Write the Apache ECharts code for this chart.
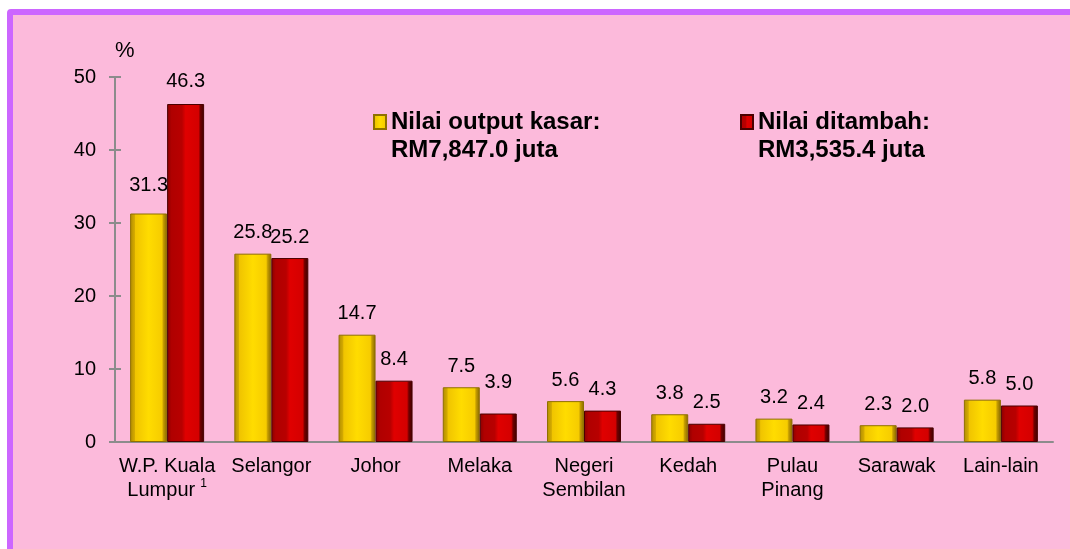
<!DOCTYPE html>
<html>
<head>
<meta charset="utf-8">
<script src="https://cdn.jsdelivr.net/npm/echarts@6/dist/echarts.min.js"></script>
<style>
  html, body { margin: 0; padding: 0; background: #fff; }
  #chart { width: 1070px; height: 549px; }
</style>
</head>
<body>
<div id="chart"></div>
<script>
const categories = ['W.P. Kuala\nLumpur', 'Selangor', 'Johor', 'Melaka', 'Negeri\nSembilan', 'Kedah', 'Pulau\nPinang', 'Sarawak', 'Lain-lain'];
const footnoted = ['W.P. Kuala\nLumpur'];
const outputKasar = [31.3, 25.8, 14.7, 7.5, 5.6, 3.8, 3.2, 2.3, 5.8];
const nilaiDitambah = [46.3, 25.2, 8.4, 3.9, 4.3, 2.5, 2.4, 2.0, 5.0];
const seriesNames = ['Nilai output kasar:', 'Nilai ditambah:'];
const seriesTotals = ['RM7,847.0 juta', 'RM3,535.4 juta'];
const yTicks = [0, 10, 20, 30, 40, 50];

// labels that sit a bit higher in the original, pixels up
const kasarLabelLift = [7, 0, 0, 0, 0, 0, 0, 0, 0];
const tambahLabelLift = [2, 0, 0, 10, 0, 0, 0, 0, 0];

const FONT = 'Arial, "Liberation Sans", sans-serif';
const AXIS_GREY = '#8c8c8c';

// bevel-ish look for the bars, left edge darker, right edge darkest
const yellowFill = new echarts.graphic.LinearGradient(0, 0, 1, 0, [
  { offset: 0, color: '#b08c00' },
  { offset: 0.12, color: '#d4aa00' },
  { offset: 0.14, color: '#f0c400' },
  { offset: 0.5, color: '#ffdc00' },
  { offset: 0.86, color: '#f6cc00' },
  { offset: 0.9, color: '#c49c00' },
  { offset: 1, color: '#856600' },
]);
const redFill = new echarts.graphic.LinearGradient(0, 0, 1, 0, [
  { offset: 0, color: '#8a0000' },
  { offset: 0.12, color: '#b00000' },
  { offset: 0.4, color: '#b80000' },
  { offset: 0.5, color: '#e00000' },
  { offset: 0.85, color: '#d40000' },
  { offset: 0.9, color: '#700000' },
  { offset: 1, color: '#3c0000' },
]);

const valueLabel = {
  show: true,
  position: 'top',
  distance: 11,
  color: '#000',
  fontFamily: FONT,
  fontSize: 20,
  formatter: p => p.value.toFixed(1),
};

const withLift = (values, lifts) =>
  values.map((v, i) => (lifts[i] ? { value: v, label: { offset: [0, -lifts[i]] } } : v));

const legendBase = {
  top: 105,
  orient: 'horizontal',
  itemWidth: 12,
  itemHeight: 14,
  icon: 'rect',
  textStyle: { fontFamily: FONT, fontSize: 24, fontWeight: 'bold', color: '#000' },
};

const chart = echarts.init(document.getElementById('chart'), null, { renderer: 'canvas' });

chart.setOption({
  animation: false,
  textStyle: { fontFamily: FONT },
  graphic: [
    {
      type: 'rect',
      z: -10,
      shape: { x: 10, y: 12, width: 1100, height: 600, r: 1 },
      style: { fill: '#fcbadb', stroke: '#cc66ff', lineWidth: 6 },
    },
    {
      type: 'text',
      left: 391,
      top: 138,
      style: { text: seriesTotals[0], font: 'bold 24px ' + FONT, fill: '#000' },
    },
    {
      type: 'text',
      left: 758,
      top: 138,
      style: { text: seriesTotals[1], font: 'bold 24px ' + FONT, fill: '#000' },
    },
  ],
  legend: [
    Object.assign({}, legendBase, { left: 368, data: [seriesNames[0]] }),
    Object.assign({}, legendBase, { left: 735, data: [seriesNames[1]] }),
  ],
  grid: { left: 115, right: 17, top: 77, bottom: 107 },
  xAxis: {
    type: 'category',
    data: categories,
    axisLine: { lineStyle: { color: AXIS_GREY, width: 2 } },
    axisTick: { show: false },
    axisLabel: {
      margin: 12,
      interval: 0,
      color: '#000',
      fontSize: 20,
      lineHeight: 24,
      formatter: v => {
        const lines = v.split('\n').map(s => '{a|' + s + '}');
        if (footnoted.includes(v)) lines[lines.length - 1] += '{s|1}';
        return lines.join('\n');
      },
      rich: {
        a: { fontSize: 20, lineHeight: 24, color: '#000', fontFamily: FONT },
        s: { fontSize: 12, lineHeight: 12, verticalAlign: 'top', color: '#000', padding: [0, 0, 0, 5], fontFamily: FONT },
      },
    },
  },
  yAxis: [
    {
      type: 'value',
      min: yTicks[0],
      max: yTicks[yTicks.length - 1],
      interval: yTicks[1] - yTicks[0],
      name: '%',
      nameLocation: 'end',
      nameGap: 15,
      nameTextStyle: { color: '#000', fontSize: 22, align: 'left', fontFamily: FONT },
      axisLine: { show: true, lineStyle: { color: AXIS_GREY, width: 2 } },
      axisTick: { show: true, length: 6, lineStyle: { color: AXIS_GREY, width: 2 } },
      axisLabel: { margin: 19, color: '#000', fontSize: 20 },
      splitLine: { show: false },
    },
    {
      // inner half of the crossing ticks
      type: 'value',
      position: 'left',
      min: yTicks[0],
      max: yTicks[yTicks.length - 1],
      interval: yTicks[1] - yTicks[0],
      axisLine: { show: false },
      axisTick: { show: true, inside: true, length: 6, lineStyle: { color: AXIS_GREY, width: 2 } },
      axisLabel: { show: false },
      splitLine: { show: false },
    },
  ],
  series: [
    {
      name: seriesNames[0],
      type: 'bar',
      data: withLift(outputKasar, kasarLabelLift),
      barWidth: 37,
      barGap: '0%',
      itemStyle: { color: yellowFill, borderColor: '#8f7000', borderWidth: 1 },
      label: valueLabel,
    },
    {
      name: seriesNames[1],
      type: 'bar',
      data: withLift(nilaiDitambah, tambahLabelLift),
      barWidth: 37,
      barGap: '0%',
      itemStyle: { color: redFill, borderColor: '#4a0000', borderWidth: 1 },
      label: valueLabel,
    },
  ],
});

window.addEventListener('resize', chart.resize);
</script>
</body>
</html>
